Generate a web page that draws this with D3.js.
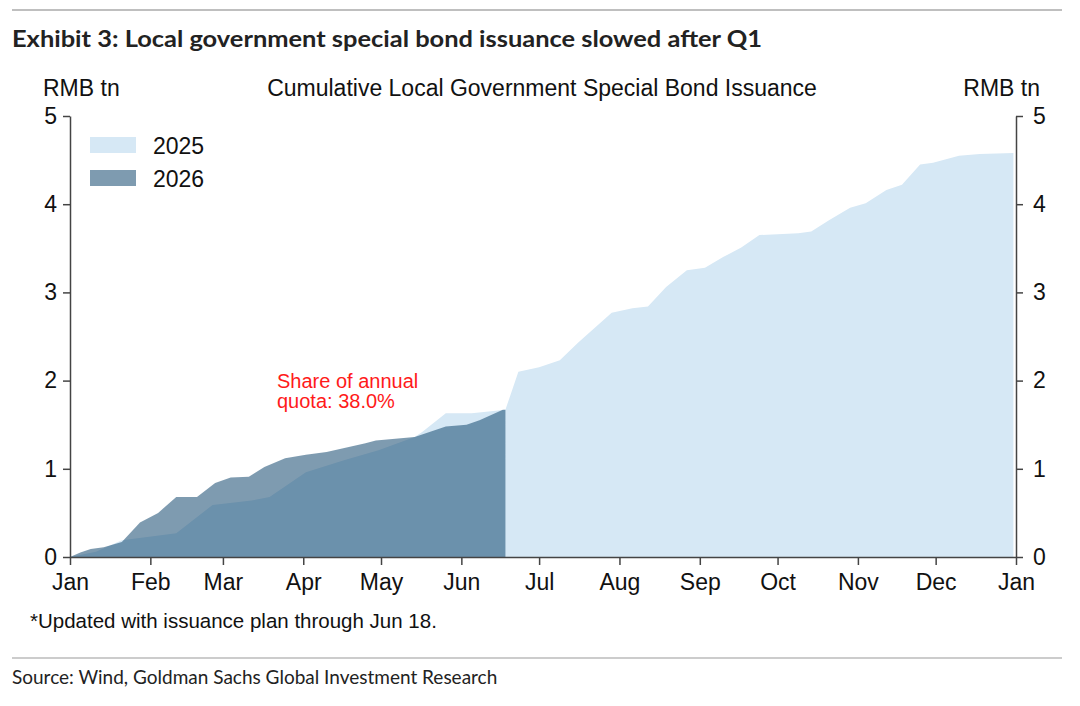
<!DOCTYPE html>
<html>
<head>
<meta charset="utf-8">
<script src="https://cdn.jsdelivr.net/npm/d3@7"></script>
<style>
  body { margin: 0; background: #fff; }
  text { font-family: "Liberation Sans", Arial, sans-serif; }
  .hdr { font-family: Lato, "Open Sans", sans-serif; }
</style>
</head>
<body>
<svg id="chart" width="1080" height="706"></svg>
<script>
// cumulative issuance, RMB tn (dates as month-day, drawn on one calendar year)
var dates2025 = ["01-01","01-11","01-21","02-11","02-25","03-12","03-19","04-02","04-17","04-30","05-14","05-17","05-26","06-05","06-18","06-23","07-01","07-09","07-16","07-29","08-06","08-12","08-19","08-27","09-03","09-10","09-17","09-24","10-09","10-14","10-21","10-29","11-04","11-12","11-18","11-25","11-30","12-10","12-18","12-31"];
var values2025 = [0,0.06,0.19,0.27,0.59,0.64,0.68,0.96,1.1,1.21,1.36,1.42,1.63,1.63,1.67,2.1,2.15,2.23,2.43,2.77,2.82,2.84,3.06,3.25,3.28,3.4,3.51,3.65,3.67,3.69,3.82,3.96,4.01,4.16,4.22,4.45,4.47,4.55,4.57,4.58];

var dates2026 = ["01-01","01-05","01-09","01-14","01-21","01-28","02-04","02-11","02-19","02-26","03-04","03-11","03-17","03-25","04-02","04-10","04-25","04-29","05-14","05-26","06-03","06-08","06-17","06-18"];
var values2026 = [0,0.05,0.09,0.11,0.17,0.39,0.5,0.68,0.68,0.84,0.9,0.91,1.02,1.12,1.16,1.19,1.29,1.32,1.36,1.48,1.5,1.55,1.67,1.67];

var yTicks = [0, 1, 2, 3, 4, 5];
var seriesNames = ["2025", "2026"];
var noteText = ["Share of annual", "quota: 38.0%"];

var svg = d3.select("#chart");
var parse = d3.timeParse("%Y-%m-%d");

function toPoints(dates, vals) {
  return dates.map(function(d, i) { return { date: parse("2025-" + d), v: vals[i] }; });
}
var s2025 = toPoints(dates2025, values2025),
    s2026 = toPoints(dates2026, values2026);

var x = d3.scaleTime()
    .domain([parse("2025-01-01"), parse("2026-01-01")])
    .range([70, 1016]);
var y = d3.scaleLinear().domain([0, 5]).range([557, 116]);

// header / footer rules
svg.append("line").attr("x1", 12).attr("x2", 1062).attr("y1", 10).attr("y2", 10)
    .attr("stroke", "#aaa").attr("stroke-width", 1.5);
svg.append("line").attr("x1", 12).attr("x2", 1062).attr("y1", 658).attr("y2", 658)
    .attr("stroke", "#bbb").attr("stroke-width", 1.5);

svg.append("text").attr("class", "hdr")
    .attr("x", 12).attr("y", 47)
    .attr("textLength", 750).attr("lengthAdjust", "spacingAndGlyphs")
    .style("font-size", "23px").style("font-weight", "bold").style("fill", "#222")
    .text("Exhibit 3: Local government special bond issuance slowed after Q1");

svg.append("text").attr("class", "hdr")
    .attr("x", 12).attr("y", 684)
    .style("font-size", "19px").style("fill", "#222")
    .text("Source: Wind, Goldman Sachs Global Investment Research");

var area = d3.area()
    .x(function(d) { return x(d.date); })
    .y0(y(0))
    .y1(function(d) { return y(d.v); });

svg.append("path").datum(s2025)
    .attr("d", area)
    .attr("fill", "#d6e8f5");

svg.append("path").datum(s2026)
    .attr("d", area)
    .attr("fill", "rgb(20,73,111)")
    .attr("fill-opacity", 0.55);

// axes
var left = svg.append("g").attr("transform", "translate(70,0)")
    .call(d3.axisLeft(y).tickValues(yTicks).tickFormat(d3.format("d"))
      .tickSize(7).tickSizeOuter(0).tickPadding(6));
var right = svg.append("g").attr("transform", "translate(1016,0)")
    .call(d3.axisRight(y).tickValues(yTicks).tickFormat(d3.format("d"))
      .tickSize(7).tickSizeOuter(0).tickPadding(10));
var bottom = svg.append("g").attr("transform", "translate(0,557)")
    .call(d3.axisBottom(x).ticks(d3.timeMonth.every(1)).tickFormat(d3.timeFormat("%b"))
      .tickSize(8).tickSizeOuter(0).tickPadding(9));

[left, right, bottom].forEach(function(g) {
  g.selectAll("path, line").attr("stroke", "#444").attr("stroke-width", 1.5);
  g.selectAll("text").style("font-size", "23px").style("fill", "#111")
    .style("font-family", "'Liberation Sans', Arial, sans-serif");
});

// labels
svg.append("text").attr("x", 43).attr("y", 96).style("font-size", "23px").style("fill", "#111").text("RMB tn");
svg.append("text").attr("x", 1040).attr("y", 96).attr("text-anchor", "end")
    .style("font-size", "23px").style("fill", "#111").text("RMB tn");
svg.append("text").attr("x", 542).attr("y", 96).attr("text-anchor", "middle")
    .style("font-size", "23px").style("fill", "#111").text("Cumulative Local Government Special Bond Issuance");

// legend
var legColors = ["#d6e8f5", "#7e9bb0"];
var leg = svg.append("g").selectAll("g")
    .data(seriesNames)
    .enter().append("g")
      .attr("transform", function(d, i) { return "translate(90," + (137 + i * 33) + ")"; });
leg.append("rect").attr("width", 46).attr("height", 16)
    .attr("fill", function(d, i) { return legColors[i]; });
leg.append("text").attr("x", 63).attr("y", 17)
    .style("font-size", "23px").style("fill", "#111")
    .text(function(d) { return d; });

// annotation
svg.append("g").selectAll("text")
    .data(noteText)
    .enter().append("text")
      .attr("x", 277).attr("y", function(d, i) { return 388 + i * 20; })
      .style("font-size", "20px").style("fill", "#ff1a1a")
      .text(function(d) { return d; });

svg.append("text").attr("x", 30).attr("y", 628)
    .style("font-size", "20.5px").style("fill", "#111")
    .text("*Updated with issuance plan through Jun 18.");
</script>
</body>
</html>
